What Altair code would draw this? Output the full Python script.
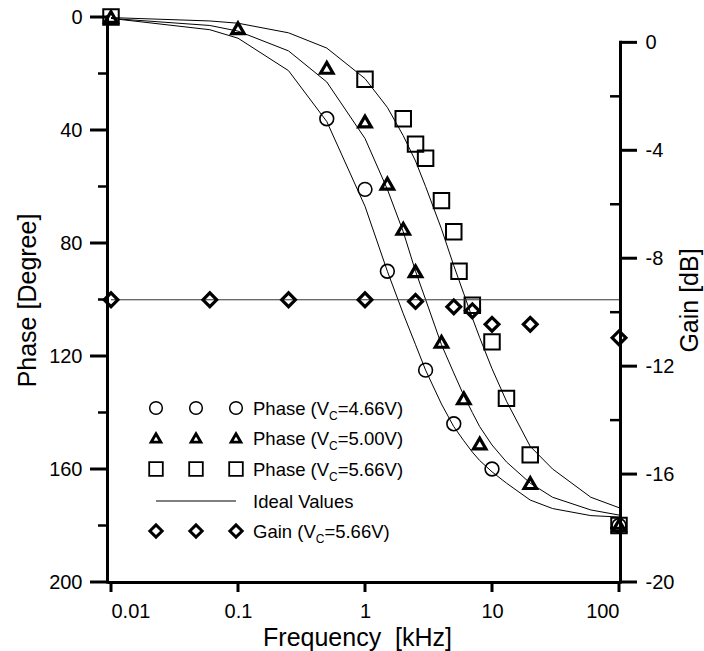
import altair as alt
import pandas as pd

# ---------------- data ----------------
# measured phase, Vc = 4.66 V (circles)
freq_c = [0.5, 1, 1.5, 3, 5, 10, 100]
phase_c = [36, 61, 90, 125, 144, 160, 180]

# measured phase, Vc = 5.00 V (triangles)
freq_t = [0.01, 0.1, 0.5, 1, 1.5, 2, 2.5, 4, 6, 8, 20, 100]
phase_t = [0, 4, 18, 37, 59, 75, 90, 115, 135, 151, 165, 180]

# measured phase, Vc = 5.66 V (squares)
freq_s = [0.01, 1, 2, 2.5, 3, 4, 5, 5.5, 7, 10, 13, 20, 100]
phase_s = [0, 22, 36, 45, 50, 65, 76, 90, 102, 115, 135, 155, 180]

# measured gain, Vc = 5.66 V (diamonds), dB
freq_g = [0.01, 0.06, 0.25, 1, 2.5, 5, 7, 10, 20, 100]
gain_g = [-9.54, -9.54, -9.54, -9.54, -9.6, -9.8, -9.95, -10.45, -10.45, -10.95]

# ideal curves
ideal_freq = [0.01, 0.06, 0.1, 0.25, 0.5, 1, 1.5, 2, 2.5, 3, 4, 5, 6, 7, 8, 10, 13, 20, 30, 60, 100]
ideal_466 = [0.5, 4.5, 7.5, 19, 37, 67, 90, 105, 116, 125, 137, 145, 150, 154, 157, 161, 165, 171, 174, 176.5, 177]
ideal_500 = [0.5, 3, 5, 12, 23, 43, 61, 76, 90, 100, 116, 126, 134, 140, 145, 151.5, 157.5, 165, 170, 174.5, 176.3]
ideal_566 = [0.2, 1.4, 2.2, 5.6, 11, 21.8, 32, 42, 51, 60, 75, 88, 98, 106.5, 113.5, 124.5, 136, 152, 160, 170, 173.7]
ideal_gain_freq = [0.01, 100]
ideal_gain = [-9.54, -9.54]

# axes
x_ticks = [0.01, 0.1, 1, 10, 100]
phase_ticks = [0, 40, 80, 120, 160, 200]
phase_minor = [20, 60, 100, 140, 180]
gain_ticks = [0, -4, -8, -12, -16, -20]
gain_minor = [-2, -6, -10, -14, -18]

# legend
legend_main = ["Phase (V", "Phase (V", "Phase (V", "Ideal Values", "Gain (V"]
legend_sub = ["C", "C", "C", "", "C"]
legend_rest = ["=4.66V)", "=5.00V)", "=5.66V)", "", "=5.66V)"]

# ---------------- chart ----------------
FONT = "Liberation Sans"
W, H = 508, 565
LW = 3  # axis line width

X = alt.Scale(type="log", domain=[0.01, 100], nice=False)
YP = alt.Scale(domain=[0, 200], reverse=True, nice=False, zero=False)
YG = alt.Scale(domain=[-20, 0.94], nice=False, zero=False)

x_axis = alt.Axis(values=x_ticks, format="~g", ticks=False, domain=False, labelPadding=19,
                  title="Frequency\u00a0 [kHz]", titleX=246, titleY=63, titleBaseline="alphabetic",
                  titleAlign="center", grid=False)
yp_axis = alt.Axis(values=phase_ticks, ticks=False, domain=False, offset=4, labelPadding=25,
                   title="Phase [Degree]", titleX=-72, titleY=283, titleAngle=270,
                   titleBaseline="alphabetic", titleAlign="center", grid=False)
yg_axis = alt.Axis(orient="right", values=gain_ticks, labelExpr="'' + datum.value", ticks=False,
                   domain=False, offset=1, labelPadding=25, title="Gain [dB]",
                   titleX=77, titleY=283, titleAngle=270, titleBaseline="alphabetic",
                   titleAlign="center", grid=False)

n = len(ideal_freq)
ideal_df = pd.DataFrame({
    "f": ideal_freq * 3,
    "v": ideal_466 + ideal_500 + ideal_566,
    "s": ["4.66"] * n + ["5.00"] * n + ["5.66"] * n,
})

ideal_lines = alt.Chart(ideal_df).mark_line(color="black", strokeWidth=1).encode(
    x=alt.X("f:Q", scale=X, axis=x_axis),
    y=alt.Y("v:Q", scale=YP, axis=yp_axis),
    detail="s:N",
)


def marker(freqs, vals, shape, size, sw, scale, yaxis):
    df = pd.DataFrame({"f": freqs, "v": vals})
    return alt.Chart(df).mark_point(shape=shape, size=size, strokeWidth=sw, filled=False,
                                    color="black", opacity=1).encode(
        x=alt.X("f:Q", scale=X, axis=x_axis),
        y=alt.Y("v:Q", scale=scale, axis=yaxis),
    )


circles = marker(freq_c, phase_c, "circle", 190, 1.6, YP, yp_axis)
tris = marker(freq_t, phase_t, "triangle-up", 155, 3.2, YP, yp_axis)
squares = marker(freq_s, phase_s, "square", 240, 2, YP, yp_axis)


def yticks(vals, scale, axis, x1, x2, sw):
    return alt.Chart(pd.DataFrame({"v": vals})).mark_rule(color="black", strokeWidth=sw).encode(
        y=alt.Y("v:Q", scale=scale, axis=axis), x=alt.value(x1), x2=alt.value(x2))


# left axis: line, major (outward) and minor (outward, shorter) ticks
left_dom = alt.Chart(pd.DataFrame({"v": [phase_ticks[0]], "b": [phase_ticks[-1]]})).mark_rule(
    color="black", strokeWidth=LW, strokeCap="square").encode(
    y=alt.Y("v:Q", scale=YP, axis=yp_axis), y2="b:Q", x=alt.value(-3.5))
left_major = yticks(phase_ticks, YP, yp_axis, -21, -3.5, LW)
left_minor = yticks(phase_minor, YP, yp_axis, -13, -3.5, 2.5)

# bottom axis line and ticks
bottom_dom = alt.Chart(pd.DataFrame({"a": [0]})).mark_rule(color="black", strokeWidth=LW).encode(
    x=alt.value(-3.5), x2=alt.value(W + 1.5), y=alt.value(H + 0.5))
bottom_ticks = alt.Chart(pd.DataFrame({"f": x_ticks})).mark_rule(color="black", strokeWidth=LW).encode(
    x=alt.X("f:Q", scale=X, axis=x_axis), y=alt.value(H), y2=alt.value(H + 10))

one = pd.DataFrame({"a": [0]})


def lsym(shape, size, sw, x, y):
    return alt.Chart(one).mark_point(shape=shape, size=size, strokeWidth=sw, filled=False,
                                     color="black", opacity=1).encode(x=alt.value(x), y=alt.value(y))


def ltext(t, x, y, fs):
    return alt.Chart(one).mark_text(text=t, align="left", baseline="alphabetic", font=FONT,
                                    fontSize=fs, color="black").encode(x=alt.value(x), y=alt.value(y))


sym_x = [45, 85, 125]
row_y = [391, 421, 452, 484, 514]
sym_spec = [("circle", 160, 1.5), ("triangle-up", 95, 2.8), ("square", 185, 1.8), None, ("diamond", 150, 3)]
legend_layers = []
TX = 142
MAIN_FS, SUB_FS = 18.5, 12
char_w = {"Phase (V": 4.113, "Gain (V": 3.390}
for i in range(5):
    y = row_y[i]
    if sym_spec[i] is None:
        legend_layers.append(alt.Chart(one).mark_rule(color="black", strokeWidth=1).encode(
            x=alt.value(sym_x[0]), x2=alt.value(sym_x[2]), y=alt.value(y)))
    else:
        shp, sz, sw = sym_spec[i]
        for sx in sym_x:
            legend_layers.append(lsym(shp, sz, sw, sx, y))
    legend_layers.append(ltext(legend_main[i], TX, y + 6.5, MAIN_FS))
    if legend_sub[i]:
        cx = TX + char_w[legend_main[i]] * MAIN_FS
        legend_layers.append(ltext(legend_sub[i], cx, y + 11.5, SUB_FS))
        legend_layers.append(ltext(legend_rest[i], cx + 0.722 * SUB_FS, y + 6.5, MAIN_FS))

phase_group = alt.layer(ideal_lines, circles, tris, squares, left_dom, left_major, left_minor,
                        bottom_dom, bottom_ticks, *legend_layers)

gain_line = alt.Chart(pd.DataFrame({"f": ideal_gain_freq, "v": ideal_gain})).mark_line(
    color="#333333", strokeWidth=1).encode(
    x=alt.X("f:Q", scale=X, axis=x_axis),
    y=alt.Y("v:Q", scale=YG, axis=yg_axis),
)
diamonds = marker(freq_g, gain_g, "diamond", 190, 3.2, YG, yg_axis)
right_dom = alt.Chart(pd.DataFrame({"v": [gain_ticks[-1]], "b": [gain_ticks[0]]})).mark_rule(
    color="black", strokeWidth=LW, strokeCap="square").encode(
    y=alt.Y("v:Q", scale=YG, axis=yg_axis), y2="b:Q", x=alt.value(W + 1.5))
right_major = yticks(gain_ticks, YG, yg_axis, W + 1.5, W + 18, LW)
right_minor = yticks(gain_minor, YG, yg_axis, W - 9, W + 1.5, 2.5)

gain_group = alt.layer(gain_line, diamonds, right_dom, right_major, right_minor)

chart = alt.layer(phase_group, gain_group).resolve_scale(y="independent").properties(
    width=W, height=H,
    padding={"left": 111, "top": 17, "right": 85, "bottom": 69},
    autosize=alt.AutoSizeParams(type="none"),
    background="white",
).configure_view(stroke=None).configure_axis(
    labelFont=FONT, titleFont=FONT, labelFontSize=20, titleFontSize=25,
    titleFontWeight="normal", labelColor="black", titleColor="black",
)

chart.save("out.html", embed_options={"renderer": "svg", "actions": False})
